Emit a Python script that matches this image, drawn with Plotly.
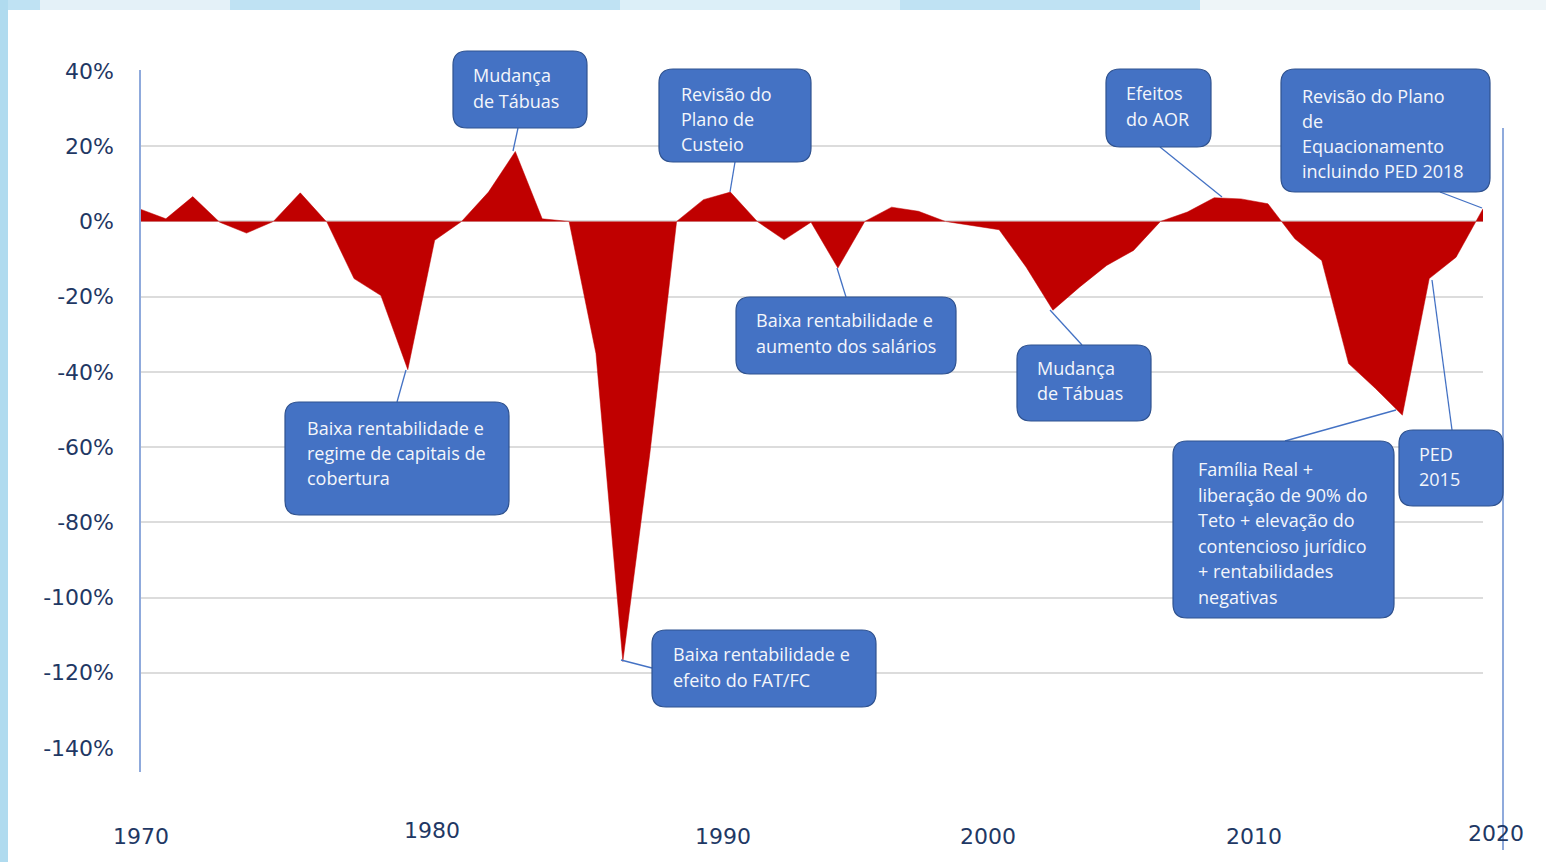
import plotly.graph_objects as go

# ---------------- data ----------------
years = list(range(1970, 2021))
values_pct = [3.4, 0.7, 6.6, -0.2, -3.1, 0.0, 7.6, -0.3, -15.2, -19.7,
              -39.4, -5.0, 0.0, 7.8, 18.6, 0.7, 0.0, -35.1, -117.0, -62.0,
              0.0, 5.8, 7.8, 0.0, -4.9, -0.2, -12.4, 0.0, 3.8, 2.7,
              0.0, -1.0, -2.2, -12.1, -23.6, -17.4, -11.7, -7.7, 0.0, 2.5,
              6.3, 6.0, 4.7, -4.6, -10.4, -37.8, -44.4, -51.5, -15.2, -9.5,
              3.4]
y_ticks = [40, 20, 0, -20, -40, -60, -80, -100, -120, -140]
y_tick_text = ["40%", "20%", "0%", "-20%", "-40%", "-60%", "-80%", "-100%", "-120%", "-140%"]
year_labels = ["1970", "1980", "1990", "2000", "2010", "2020"]

callout_texts = [
    ["Mudança", "de Tábuas"],
    ["Revisão do", "Plano de", "Custeio"],
    ["Efeitos", "do AOR"],
    ["Revisão do Plano", "de", "Equacionamento", "incluindo PED 2018"],
    ["Baixa rentabilidade e", "regime de capitais de", "cobertura"],
    ["Baixa rentabilidade e", "efeito do FAT/FC"],
    ["Baixa rentabilidade e", "aumento dos salários"],
    ["Mudança", "de Tábuas"],
    ["Família Real +", "liberação de 90% do", "Teto + elevação do",
     "contencioso jurídico", "+ rentabilidades", "negativas"],
    ["PED", "2015"],
]

# ---------------- layout (pixel positions) ----------------
W, H = 1546, 862
PL, PR, PT, PB = 139, 1483, 71, 748   # plot area in pixels

def px_x(p):
    return (p - PL) / (PR - PL)

def px_y(p):
    return (PB - p) / (PB - PT)

# boxes: x0, y0, x1, y1, text-left, first line center, line step
box_geo = [
    (453, 51, 587, 128, 471, 75, 26),
    (659, 69, 811, 162, 679, 94, 25),
    (1106, 69, 1211, 147, 1124, 93, 26),
    (1281, 69, 1490, 192, 1300, 96, 25),
    (285, 402, 509, 515, 305, 428, 25),
    (652, 630, 876, 707, 671, 654, 26),
    (736, 297, 956, 374, 754, 320, 26),
    (1017, 345, 1151, 421, 1035, 368, 25),
    (1173, 441, 1394, 618, 1196, 469, 25.6),
    (1399, 430, 1503, 506, 1417, 454, 25),
]
connectors = [
    (513, 151, 518, 128),
    (730, 192, 735, 162),
    (1222, 197, 1160, 147),
    (1482, 208, 1440, 192),
    (406, 370, 397, 402),
    (621, 660, 652, 668),
    (837, 268, 846, 297),
    (1050, 310, 1082, 345),
    (1396, 410, 1285, 441),
    (1432, 280, 1452, 430),
]
year_label_pos = [(141, 836), (432, 831), (723, 836), (988, 836), (1254, 836), (1496, 833)]

BOX_FILL = "#4472C4"
BOX_LINE = "#2F528F"
RED = "#C00000"
NAVY = "#1F3864"
AXIS_BLUE = "#8FAADC"
TICK_FONT = dict(family="DejaVu Sans, Liberation Sans, sans-serif", size=22, color=NAVY)
BOX_FONT = dict(family="Open Sans, Lato, sans-serif", size=18, color="#F4F6FB")

def rrect_path(x0, y0, x1, y1, r=14):
    pts = [
        ("M", [(x0 + r, y0)]),
        ("L", [(x1 - r, y0)]),
        ("Q", [(x1, y0), (x1, y0 + r)]),
        ("L", [(x1, y1 - r)]),
        ("Q", [(x1, y1), (x1 - r, y1)]),
        ("L", [(x0 + r, y1)]),
        ("Q", [(x0, y1), (x0, y1 - r)]),
        ("L", [(x0, y0 + r)]),
        ("Q", [(x0, y0), (x0 + r, y0)]),
    ]
    s = ""
    for cmd, ps in pts:
        s += cmd + " " + " ".join(f"{px_x(a):.5f},{px_y(b):.5f}" for a, b in ps) + " "
    return s + "Z"

fig = go.Figure()
fig.add_trace(go.Scatter(
    x=years, y=values_pct, mode="lines",
    line=dict(color=RED, width=0.5),
    fill="tozeroy", fillcolor=RED,
    hoverinfo="skip", showlegend=False,
))

shapes = []
# slide background edges
shapes.append(dict(type="rect", xref="paper", yref="paper", layer="below",
                   x0=px_x(0), x1=px_x(W), y0=px_y(0), y1=px_y(10),
                   fillcolor="#BFE2F3", line=dict(width=0)))
shapes.append(dict(type="rect", xref="paper", yref="paper", layer="below",
                   x0=px_x(40), x1=px_x(230), y0=px_y(0), y1=px_y(10),
                   fillcolor="#E4F1F8", line=dict(width=0)))
shapes.append(dict(type="rect", xref="paper", yref="paper", layer="below",
                   x0=px_x(620), x1=px_x(900), y0=px_y(0), y1=px_y(10),
                   fillcolor="#DCEFF8", line=dict(width=0)))
shapes.append(dict(type="rect", xref="paper", yref="paper", layer="below",
                   x0=px_x(1200), x1=px_x(W), y0=px_y(0), y1=px_y(10),
                   fillcolor="#EEF5F8", line=dict(width=0)))
shapes.append(dict(type="rect", xref="paper", yref="paper", layer="below",
                   x0=px_x(0), x1=px_x(8), y0=px_y(0), y1=px_y(H),
                   fillcolor="#B0DBEF", line=dict(width=0)))
# axis lines
shapes.append(dict(type="line", xref="paper", yref="paper", layer="above",
                   x0=px_x(140), x1=px_x(140), y0=px_y(70), y1=px_y(772),
                   line=dict(color=AXIS_BLUE, width=2)))
shapes.append(dict(type="line", xref="paper", yref="paper", layer="above",
                   x0=px_x(1503), x1=px_x(1503), y0=px_y(128), y1=px_y(850),
                   line=dict(color=AXIS_BLUE, width=2)))
# connectors
for (xa, ya, xb, yb) in connectors:
    shapes.append(dict(type="line", xref="paper", yref="paper", layer="above",
                       x0=px_x(xa), y0=px_y(ya), x1=px_x(xb), y1=px_y(yb),
                       line=dict(color="#4472C4", width=1.3)))
# boxes
for g in box_geo:
    shapes.append(dict(type="path", xref="paper", yref="paper", layer="above",
                       path=rrect_path(g[0], g[1], g[2], g[3]),
                       fillcolor=BOX_FILL, line=dict(color=BOX_LINE, width=1.2)))

annotations = []
for g, lines in zip(box_geo, callout_texts):
    for i, t in enumerate(lines):
        annotations.append(dict(
            xref="paper", yref="paper", x=px_x(g[4]), y=px_y(g[5] + i * g[6]),
            xanchor="left", yanchor="middle", showarrow=False, text=t,
            font=BOX_FONT,
        ))
for lab, (lx, ly) in zip(year_labels, year_label_pos):
    annotations.append(dict(
        xref="paper", yref="paper", x=px_x(lx), y=px_y(ly),
        xanchor="center", yanchor="middle", showarrow=False, text=lab,
        font=TICK_FONT,
    ))

fig.update_layout(
    width=W, height=H,
    margin=dict(l=PL, r=W - PR, t=PT, b=H - PB, pad=0),
    paper_bgcolor="white", plot_bgcolor="white",
    showlegend=False,
    shapes=shapes, annotations=annotations,
    xaxis=dict(range=[1970, 2020], showgrid=False, zeroline=False,
               showticklabels=False, showline=False, ticks=""),
    yaxis=dict(range=[-140, 40], tickvals=y_ticks, ticktext=y_tick_text,
               showgrid=True, gridcolor="#DCDCDC", gridwidth=2,
               zeroline=False, showline=False, ticks="",
               ticklabelstandoff=24, tickfont=TICK_FONT),
)

fig.write_html(
    "out.html",
    config={"displayModeBar": False},
    post_script="document.body.style.margin='0px';document.body.style.overflow='hidden';",
)
